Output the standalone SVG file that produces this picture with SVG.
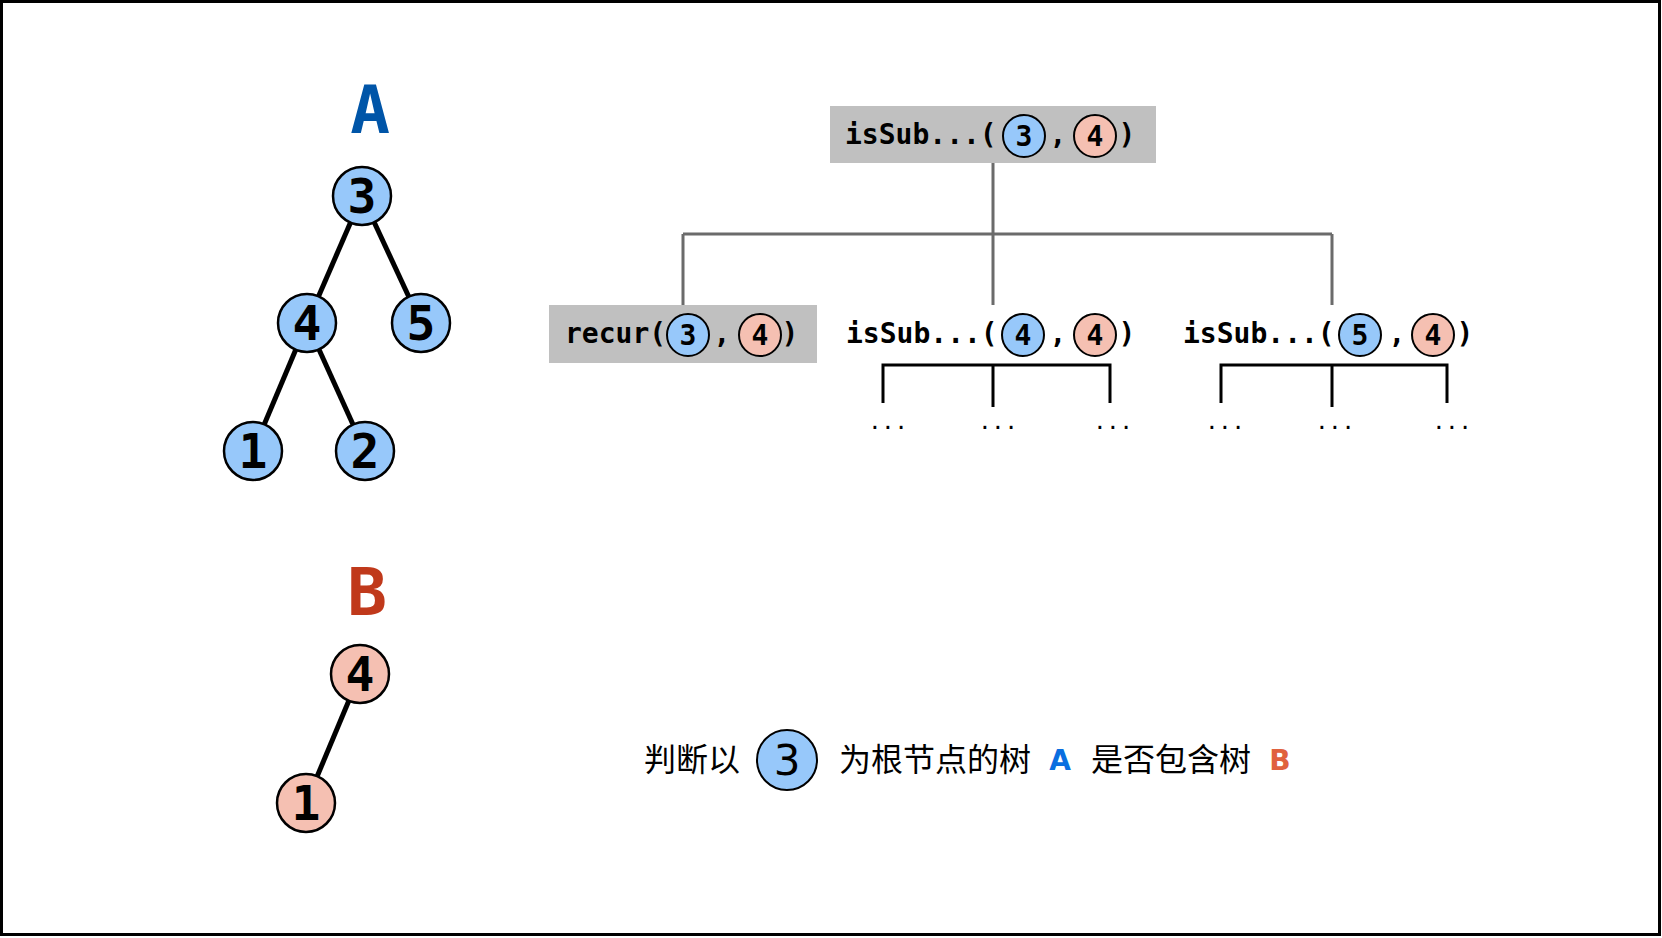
<svg xmlns="http://www.w3.org/2000/svg" width="1662" height="938" viewBox="0 0 1662 938">
<style>
.edge{stroke:#000;stroke-width:5;stroke-linecap:butt}
.nb{fill:#97c8fa;stroke:#000;stroke-width:2.5}
.np{fill:#f5c0b2;stroke:#000;stroke-width:2.5}
.nd{font-family:"DejaVu Sans Mono",monospace;font-weight:bold;font-size:48px;text-anchor:middle;fill:#000}
.sb{fill:#97c8fa;stroke:#000;stroke-width:2}
.sp{fill:#f5c0b2;stroke:#000;stroke-width:2}
.sd{font-family:"DejaVu Sans Mono",monospace;font-weight:bold;font-size:28px;text-anchor:middle;fill:#000}
.code{font-family:"DejaVu Sans Mono",monospace;font-weight:bold;font-size:28px;fill:#000}
.mid{text-anchor:middle}
.box{fill:#c0c0c0}
.conn{stroke:#6b6b6b;stroke-width:3;fill:none}
.br{stroke:#000;stroke-width:3;fill:none}
.dots{font-family:"DejaVu Sans Mono",monospace;font-size:22px;text-anchor:middle;fill:#000}
.cn{font-family:"Noto Sans CJK SC",sans-serif;font-size:32px;fill:#000}
</style>
<rect x="1.5" y="1.5" width="1658" height="933" fill="#fff" stroke="#000" stroke-width="3"/>

<g id="treeA">
<text x="370" y="133" font-family="DejaVu Sans Mono, monospace" font-weight="bold" font-size="66" text-anchor="middle" fill="#0055a8">A</text>
<line class="edge" x1="362" y1="196" x2="307" y2="323"/>
<line class="edge" x1="362" y1="196" x2="421" y2="323"/>
<line class="edge" x1="307" y1="323" x2="253" y2="451"/>
<line class="edge" x1="307" y1="323" x2="365" y2="451"/>
<g id="a3"><circle class="nb" cx="362" cy="196" r="29"/><text class="nd" x="362" y="213">3</text></g>
<g id="a4"><circle class="nb" cx="307" cy="323" r="29"/><text class="nd" x="307" y="340">4</text></g>
<g id="a5"><circle class="nb" cx="421" cy="323" r="29"/><text class="nd" x="421" y="340">5</text></g>
<g id="a1"><circle class="nb" cx="253" cy="451" r="29"/><text class="nd" x="253" y="468">1</text></g>
<g id="a2"><circle class="nb" cx="365" cy="451" r="29"/><text class="nd" x="365" y="468">2</text></g>
</g>

<g id="treeB">
<text x="367" y="615" font-family="DejaVu Sans Mono, monospace" font-weight="bold" font-size="66" text-anchor="middle" fill="#c0391b">B</text>
<line class="edge" x1="360" y1="674" x2="306" y2="803"/>
<g id="b4"><circle class="np" cx="360" cy="674" r="29"/><text class="nd" x="360" y="691">4</text></g>
<g id="b1"><circle class="np" cx="306" cy="803" r="29"/><text class="nd" x="306" y="820">1</text></g>
</g>

<g id="connectors">
<path class="conn" d="M993 163 V305 M683 234 H1332 M683 234 V305 M1332 234 V305"/>
<path class="br" d="M883 403 V365 H1110 V403 M993 365 V407"/>
<path class="br" d="M1221 403 V365 H1447 V403 M1332 365 V407"/>
</g>

<g id="top">
<rect class="box" x="830" y="106" width="326" height="57"/>
<text class="code" x="845" y="144">isSub...(</text>
<circle class="sb" cx="1024" cy="136" r="21"/><text class="sd" x="1024" y="146">3</text>
<text class="code mid" x="1058" y="144">,</text>
<circle class="sp" cx="1095" cy="136" r="21"/><text class="sd" x="1095" y="146">4</text>
<text class="code mid" x="1127" y="144">)</text>
</g>

<g id="recur">
<rect class="box" x="549" y="305" width="268" height="58"/>
<text class="code" x="565" y="343">recur(</text>
<circle class="sb" cx="688" cy="335" r="21"/><text class="sd" x="688" y="345">3</text>
<text class="code mid" x="722" y="343">,</text>
<circle class="sp" cx="760" cy="335" r="21"/><text class="sd" x="760" y="345">4</text>
<text class="code mid" x="790" y="343">)</text>
</g>

<g id="sub44">
<text class="code" x="846" y="343">isSub...(</text>
<circle class="sb" cx="1023" cy="335" r="21"/><text class="sd" x="1023" y="345">4</text>
<text class="code mid" x="1058" y="343">,</text>
<circle class="sp" cx="1095" cy="335" r="21"/><text class="sd" x="1095" y="345">4</text>
<text class="code mid" x="1127" y="343">)</text>
<text class="dots" x="888" y="429">...</text>
<text class="dots" x="998" y="429">...</text>
<text class="dots" x="1113" y="429">...</text>
</g>

<g id="sub54">
<text class="code" x="1183" y="343">isSub...(</text>
<circle class="sb" cx="1360" cy="335" r="21"/><text class="sd" x="1360" y="345">5</text>
<text class="code mid" x="1397" y="343">,</text>
<circle class="sp" cx="1433" cy="335" r="21"/><text class="sd" x="1433" y="345">4</text>
<text class="code mid" x="1465" y="343">)</text>
<text class="dots" x="1225" y="429">...</text>
<text class="dots" x="1335" y="429">...</text>
<text class="dots" x="1452" y="429">...</text>
</g>

<g id="caption">
<text class="cn" x="644" y="771">判断以</text>
<circle cx="787" cy="760" r="30" fill="#97c8fa" stroke="#000" stroke-width="2"/>
<text x="787" y="775" font-family="DejaVu Sans, sans-serif" font-size="42" text-anchor="middle" fill="#000">3</text>
<text class="cn" x="839" y="771">为根节点的树</text>
<text x="1060" y="770" font-family="DejaVu Sans, sans-serif" font-weight="bold" font-size="28" text-anchor="middle" fill="#0a6ee0">A</text>
<text class="cn" x="1091" y="771">是否包含树</text>
<text x="1280" y="770" font-family="DejaVu Sans, sans-serif" font-weight="bold" font-size="28" text-anchor="middle" fill="#e0613e">B</text>
</g>
</svg>
